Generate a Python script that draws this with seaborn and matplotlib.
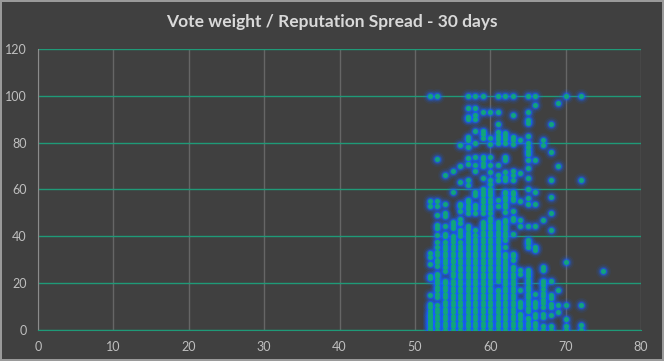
import pandas as pd
import numpy as np
import seaborn as sns
import matplotlib.pyplot as plt

# Reputation values (x) and vote weight % (y), one list per reputation column
w52 = [0, 1, 2, 3, 4, 5, 6, 7, 8, 10, 11, 15, 22, 23, 28, 31, 33, 53, 55, 100]
w53 = [0, 1.5, 3, 4.5, 6, 7.5, 9, 10.5, 14, 15.5, 17, 18.5, 20, 21.5, 23, 24, 27.5, 29, 30, 32,
       33.5, 35.5, 37.5, 40.5, 43.5, 45, 49, 53, 55, 73, 100]
w54 = [0, 1.5, 3, 4.5, 6, 7.5, 9, 10.5, 12, 14, 15.5, 17, 18.5, 20, 21, 25, 27, 28.5, 30, 31.5,
       33, 34.5, 36, 37.5, 40, 41, 44.5, 48.5, 50, 54, 66]
w55 = [0, 1.5, 3, 4.5, 6, 7.5, 9, 10.5, 12, 13.5, 15, 16.5, 18, 19.5, 21, 23, 24.5, 26, 27.5, 29,
       30, 31.5, 33, 34.5, 36, 37.5, 39, 40, 43.5, 45, 46, 59, 68]
w56 = [0, 1.5, 3, 4.5, 6, 7.5, 9, 10.5, 12, 13.5, 15, 16.5, 18, 19.5, 21, 22.5, 24, 25.5, 27, 28.5,
       30, 31.5, 33, 34.5, 36, 37.5, 40, 41.5, 42.5, 45.5, 47.5, 51, 53, 54, 63, 70, 79]
w57 = [0, 1.5, 3, 4.5, 6, 7.5, 9, 10.5, 12, 13.5, 15, 16.5, 18, 19.5, 21, 22.5, 24, 25.5, 27, 28.5,
       30, 31.5, 33, 34.5, 36, 37.5, 39, 40, 41.5, 43, 44.5, 50, 51.5, 53, 54.5, 55.5, 62, 64, 71,
       73.5, 78, 81, 82.5, 90, 91, 95, 100]
w58 = [0, 1.5, 3, 4.5, 6, 7.5, 9, 10.5, 12, 13.5, 15, 16.5, 18, 19.5, 21, 22.5, 24, 25.5, 27, 28.5,
       30, 31.5, 33, 34.5, 36, 37.5, 39, 40.5, 42.5, 50, 52, 53.5, 57.5, 59, 68, 70.5, 74, 80, 85,
       90, 92, 95, 100]
w59 = [0, 1.5, 3, 4.5, 6, 7.5, 9, 10.5, 12, 13.5, 15, 16.5, 18, 19.5, 21, 22.5, 24, 25.5, 27, 28.5,
       30, 31.5, 33, 34.5, 36, 37.5, 39, 40.5, 42, 43.5, 45, 46, 50, 51.5, 53, 54.5, 56, 57.5, 59,
       60, 65, 70, 71.5, 73, 74, 82, 83.5, 85, 93, 100]
w60 = [0, 1.5, 3, 4.5, 6, 7.5, 9, 10.5, 12, 13.5, 15, 16.5, 18, 19.5, 21, 22.5, 24, 25.5, 27, 28.5,
       30, 31.5, 33, 34.5, 36, 37.5, 39, 40.5, 42, 43.5, 45, 46.5, 48, 50, 51.5, 53, 54.5, 56, 57.5,
       59, 60, 62.5, 64, 67.5, 70.5, 74, 79.5, 82, 93]
w61 = [0, 1.5, 3, 4.5, 6, 7.5, 9, 10.5, 12, 13.5, 15, 16.5, 17, 21, 22.5, 24, 25.5, 27, 28.5, 30,
       31.5, 33, 34.5, 36, 37.5, 39, 40.5, 42, 43.5, 45, 46, 53, 55.5, 64, 66, 70.5, 80, 81.5, 83,
       84.5, 88, 93, 100]
w62 = [0, 1.5, 3, 4.5, 6, 7.5, 9, 10.5, 12, 13.5, 15, 16.5, 18, 19.5, 21, 22.5, 24, 25.5, 27, 28,
       29.5, 31, 32.5, 35.5, 38.5, 40, 41.5, 43, 44.5, 46, 47, 50.5, 52.5, 54, 55.5, 57, 58.5, 59,
       64, 65.5, 67.5, 72.5, 74, 80, 81.5, 83, 84, 100]
w63 = [0, 1.5, 3, 4.5, 6, 7.5, 9, 10.5, 12, 13.5, 15, 16.5, 18, 19.5, 21, 22.5, 24, 25.5, 27, 30,
       31.5, 32.5, 41, 47, 48, 51, 55.5, 56.5, 58, 59, 64, 66, 68, 79.5, 81, 82.5, 92, 100]
w64 = [0, 1.5, 3, 4.5, 6, 7, 10, 11, 12, 17, 24, 25.5, 44.5, 47, 55, 67, 81]
w65 = [0, 1.5, 3, 4.5, 5, 8, 9.5, 11, 12.5, 14, 15.5, 17, 18.5, 20, 21.5, 23, 24.5, 25.5, 35.5, 37,
       38.5, 44.5, 54, 56.5, 60, 65, 69, 72.5, 75, 76.5, 78, 80, 83, 88.5, 89.5, 93, 100]
w66 = [0, 1.5, 3, 5.5, 7, 10, 11, 12, 15.5, 34, 35.5, 44.5, 54, 59, 72.5, 96, 100]
w67 = [0, 1.5, 5.5, 7, 10, 11.5, 13, 14.5, 16, 17.5, 19, 20.5, 21, 25.5, 27, 47, 79, 81]
w68 = [0, 1.5, 6.5, 10, 11, 13.5, 15, 21, 42.5, 50, 57, 64, 76, 88]
w69 = [7.5, 10.5, 17, 70, 97]
w70 = [0, 1.5, 4.5, 10.5, 29, 100]
w72 = [0, 2, 10.5, 64, 100]
w75 = [25]

reputation = [52, 53, 54, 55, 56, 57, 58, 59, 60, 61, 62, 63, 64, 65, 66, 67, 68, 69, 70, 72, 75]
weights = [w52, w53, w54, w55, w56, w57, w58, w59, w60, w61, w62, w63, w64, w65, w66, w67, w68,
           w69, w70, w72, w75]

rows = [(r, w) for r, ws in zip(reputation, weights) for w in ws]
data = pd.DataFrame(rows, columns=['reputation', 'weight'])

bg = '#404040'
sns.set_style('dark', {'axes.facecolor': bg, 'figure.facecolor': bg})
plt.rcParams['font.family'] = ['Lato', 'DejaVu Sans']

fig = plt.figure(figsize=(6.64, 3.61), dpi=100)
fig.patch.set_edgecolor('#9a9a9a')
fig.patch.set_linewidth(1.5)
ax = fig.add_axes([0.0572, 0.0859, 0.9082, 0.7784])

# soft blue glow layers, then green dots on top
for size, alpha in [(120, 0.08), (75, 0.14), (45, 0.25), (28, 0.5)]:
    sns.scatterplot(data=data, x='reputation', y='weight', s=size, color='#1763ff',
                    alpha=alpha, linewidth=0, ax=ax, zorder=3)
sns.scatterplot(data=data, x='reputation', y='weight', s=13, color='#12a47c',
                linewidth=0, ax=ax, zorder=4)

ax.set_xlim(0, 80)
ax.set_ylim(0, 120)
ax.set_xticks(range(0, 81, 10))
ax.set_yticks(range(0, 121, 20))
ax.set_xlabel('')
ax.set_ylabel('')
ax.xaxis.grid(True, color='#666666', linewidth=1)
ax.yaxis.grid(True, color='#1f9a78', linewidth=1)
ax.set_axisbelow(True)
for side in ['top', 'right']:
    ax.spines[side].set_visible(False)
ax.spines['left'].set_color('#8c8c8c')
ax.spines['bottom'].set_color('#1f9a78')
ax.tick_params(colors='#bfbfbf', labelsize=9, length=0, pad=8)
for lbl in ax.get_xticklabels() + ax.get_yticklabels():
    lbl.set_color('#bfbfbf')

fig.text(0.5, 0.938, 'Vote weight / Reputation Spread - 30 days', ha='center', va='center',
         fontsize=12.5, fontweight='bold', color='#d9d9d9')

fig.savefig('out.png', dpi=100, facecolor=bg, edgecolor=fig.patch.get_edgecolor())
